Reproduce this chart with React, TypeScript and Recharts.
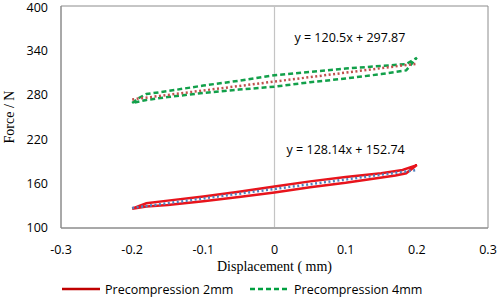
import React from "react";
import {
  LineChart,
  Line,
  XAxis,
  YAxis,
  ReferenceArea,
  ReferenceLine,
  ReferenceDot,
  Legend,
} from "recharts";

// tick values
const xTicks = [-0.3, -0.2, -0.1, 0, 0.1, 0.2, 0.3];
const yTicks = [100, 160, 220, 280, 340, 400];

// precompression 2mm loop: out along the upper branch, back along the lower one
const loop2mm = [
  { x: -0.2, y: 126 },
  { x: -0.19, y: 130 },
  { x: -0.18, y: 133.5 },
  { x: -0.15, y: 137 },
  { x: -0.1, y: 142.5 },
  { x: -0.05, y: 149 },
  { x: 0, y: 156 },
  { x: 0.05, y: 163 },
  { x: 0.1, y: 169 },
  { x: 0.15, y: 174 },
  { x: 0.18, y: 178.5 },
  { x: 0.2, y: 185 },
  { x: 0.185, y: 174 },
  { x: 0.17, y: 171 },
  { x: 0.1, y: 161 },
  { x: 0.05, y: 155 },
  { x: 0, y: 148 },
  { x: -0.05, y: 142 },
  { x: -0.1, y: 136 },
  { x: -0.15, y: 131 },
  { x: -0.18, y: 129 },
  { x: -0.2, y: 126 },
];

// precompression 4mm loop
const loop4mm = [
  { x: -0.2, y: 269 },
  { x: -0.19, y: 276 },
  { x: -0.18, y: 281 },
  { x: -0.15, y: 285 },
  { x: -0.1, y: 292.5 },
  { x: -0.05, y: 299 },
  { x: 0, y: 306.5 },
  { x: 0.05, y: 311 },
  { x: 0.1, y: 315.5 },
  { x: 0.15, y: 319 },
  { x: 0.185, y: 321.5 },
  { x: 0.2, y: 330 },
  { x: 0.185, y: 313 },
  { x: 0.15, y: 308 },
  { x: 0.1, y: 302 },
  { x: 0.05, y: 297 },
  { x: 0, y: 291 },
  { x: -0.05, y: 287 },
  { x: -0.1, y: 282.5 },
  { x: -0.15, y: 277 },
  { x: -0.18, y: 273 },
  { x: -0.2, y: 269 },
];

// linear trend lines (end points)
const trend2mm = [
  { x: -0.2, y: 127.1 },
  { x: 0.2, y: 178.4 },
];
const trend4mm = [
  { x: -0.2, y: 273.8 },
  { x: 0.2, y: 322 },
];

const tickFont = { fill: "#000", fontSize: 12.5, fontFamily: "Open Sans" };

function LegendBox() {
  return (
    <svg width={498} height={24}>
      <line x1={62} x2={100} y1={16} y2={16} stroke="#c00000" strokeWidth={2.5} />
      <text x={105} y={20.5} fontSize={12.5} fontFamily="Open Sans" fill="#000">
        Precompression 2mm
      </text>
      <line x1={250} x2={288} y1={16} y2={16} stroke="#00a040" strokeWidth={2.5} strokeDasharray="5 3" />
      <text x={294} y={20.5} fontSize={12.5} fontFamily="Open Sans" fill="#000">
        Precompression 4mm
      </text>
    </svg>
  );
}

export default function App() {
  return (
    <div style={{ position: "absolute", left: 0, top: 0, background: "#fff" }}>
      <LineChart width={498} height={297} margin={{ top: 6, right: 10, left: 0, bottom: 0 }}>
        <XAxis
          type="number"
          dataKey="x"
          domain={[-0.3, 0.3]}
          ticks={xTicks}
          tickFormatter={(v: number) => String(v)}
          tick={tickFont}
          tickLine={false}
          tickMargin={11}
          axisLine={{ stroke: "#8c8c8c" }}
          height={45}
          label={{
            value: "Displacement ( mm)",
            position: "insideBottom",
            offset: 2,
            fill: "#000",
            fontSize: 14,
            fontFamily: "Liberation Serif",
          }}
        />
        <YAxis
          type="number"
          dataKey="y"
          domain={[100, 400]}
          ticks={yTicks}
          tick={tickFont}
          tickLine={false}
          tickMargin={7}
          axisLine={{ stroke: "#8c8c8c" }}
          width={61}
          label={{
            value: "Force / N",
            angle: -90,
            position: "insideLeft",
            offset: 9,
            fill: "#000",
            fontSize: 14,
            fontFamily: "Liberation Serif",
            style: { textAnchor: "middle" },
          }}
        />
        <ReferenceArea x1={-0.3} x2={0.3} y1={100} y2={400} fill="none" stroke="#8c8c8c" />
        <ReferenceLine x={0} stroke="#c4c4c4" strokeWidth={1.2} />
        <Line
          data={loop2mm}
          dataKey="y"
          type="linear"
          stroke="#e8141c"
          strokeWidth={2.5}
          dot={false}
          isAnimationActive={false}
          legendType="none"
        />
        <Line
          data={loop4mm}
          dataKey="y"
          type="linear"
          stroke="#12a04a"
          strokeWidth={2.5}
          strokeDasharray="5 3"
          dot={false}
          isAnimationActive={false}
          legendType="none"
        />
        <Line
          data={trend2mm}
          dataKey="y"
          type="linear"
          stroke="#4f81bd"
          strokeWidth={2.5}
          strokeDasharray="2 2.5"
          dot={false}
          isAnimationActive={false}
          legendType="none"
        />
        <Line
          data={trend4mm}
          dataKey="y"
          type="linear"
          stroke="#c0504d"
          strokeWidth={2.5}
          strokeDasharray="2 2.5"
          dot={false}
          isAnimationActive={false}
          legendType="none"
        />
        <ReferenceDot
          x={0.106}
          y={357}
          r={0}
          stroke="none"
          label={{ value: "y = 120.5x + 297.87", position: "center", fill: "#000", fontSize: 12.5, fontFamily: "Open Sans" }}
        />
        <ReferenceDot
          x={0.1}
          y={205.5}
          r={0}
          stroke="none"
          label={{ value: "y = 128.14x + 152.74", position: "center", fill: "#000", fontSize: 12.5, fontFamily: "Open Sans" }}
        />
        <Legend verticalAlign="bottom" height={24} content={() => <LegendBox />} wrapperStyle={{ left: 0, width: 498 }} />
      </LineChart>
    </div>
  );
}
